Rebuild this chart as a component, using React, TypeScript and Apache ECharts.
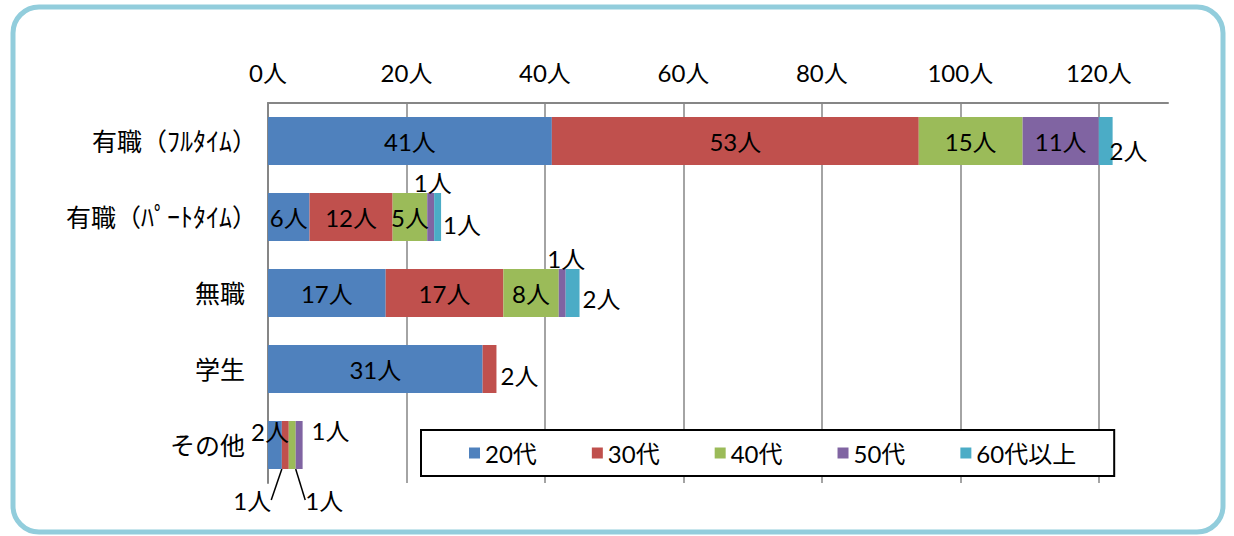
import React, { useEffect, useRef } from "react";
import * as echarts from "echarts";

const categories = ["有職（ﾌﾙﾀｲﾑ）", "有職（ﾊﾟｰﾄﾀｲﾑ）", "無職", "学生", "その他"];
const seriesNames = ["20代", "30代", "40代", "50代", "60代以上"];
const age20 = [41, 6, 17, 31, 2];
const age30 = [53, 12, 17, 2, 1];
const age40 = [15, 5, 8, 0, 1];
const age50 = [11, 1, 1, 0, 1];
const age60 = [2, 1, 2, 0, 0];
const xTicks = [0, 20, 40, 60, 80, 100, 120];
const seriesValues = [age20, age30, age40, age50, age60];
const colors = ["#4F81BD", "#C0504D", "#9BBB59", "#8064A2", "#4BACC6"];

const FONT = "Lato, 'Noto Sans CJK JP', sans-serif";

// per-label placement overrides, keyed "series-dataIndex"
const labelOverrides: Record<string, any> = {
  "4-0": { position: "right", distance: -3, d: [0, 9] },
  "3-1": { position: "top", distance: 0, d: [2, 1] },
  "4-1": { position: "right", distance: 2, d: [0, 7] },
  "3-2": { position: "top", distance: 0, d: [4, 1] },
  "4-2": { position: "right", distance: 3, d: [0, 5] },
  "1-3": { position: "right", distance: 4, d: [0, 6] },
  "0-4": { position: "inside", d: [-5, -14] },
  "3-4": { position: "right", distance: 9, d: [0, -15] },
};
const guided = ["1-4", "2-4"];

export default function App() {
  const ref = useRef<HTMLDivElement>(null);
  useEffect(() => {
    if (!ref.current) return;
    const chart = echarts.init(ref.current, null, { renderer: "svg" });
    const series = seriesValues.map((vals, si) => ({
      name: seriesNames[si],
      type: "bar",
      stack: "total",
      barWidth: 48,
      itemStyle: { color: colors[si] },
      label: {
        show: true,
        position: "inside",
        color: "#000",
        fontSize: 24,
        fontFamily: FONT,
        formatter: (p: any) => (p.value ? p.value + "人" : ""),
      },
      labelLayout: (params: any) => {
        const key = params.seriesIndex + "-" + params.dataIndex;
        const r = params.rect;
        const cx = r.x + r.width / 2;
        const by = r.y + r.height;
        if (key === "1-4") {
          return {
            x: cx - 52,
            y: by + 19,
            labelLinePoints: [
              [cx - 1, by - 6],
              [cx - 14, by + 21],
              [cx - 14, by + 21],
            ],
          };
        }
        if (key === "2-4") {
          return {
            x: cx + 13,
            y: by + 19,
            labelLinePoints: [
              [cx, by - 7],
              [cx + 30, by + 15],
              [cx + 30, by + 15],
            ],
          };
        }
        const o = labelOverrides[key];
        if (o && o.d) return { dx: o.d[0], dy: o.d[1] };
        return {};
      },
      data: vals.map((v, di) => {
        const key = si + "-" + di;
        const item: any = { value: v };
        if (v === 0) item.label = { show: false };
        else if (labelOverrides[key]) {
          const { d, ...rest } = labelOverrides[key];
          item.label = rest;
        }
        if (guided.includes(key)) {
          item.labelLine = { show: true, lineStyle: { color: "#000", width: 1.5 } };
        }
        return item;
      }),
    }));

    chart.setOption({
      animation: false,
      textStyle: { fontFamily: FONT },
      graphic: [
        {
          type: "rect",
          shape: { x: 13, y: 7, width: 1210, height: 525, r: 26 },
          style: { fill: "none", stroke: "#92CDDC", lineWidth: 5 },
          z: 100,
          silent: true,
        },
      ],
      grid: { left: 268, right: 66, top: 103, bottom: 53, containLabel: false },
      legend: {
        data: seriesNames,
        left: 421,
        top: 430,
        orient: "horizontal",
        icon: "rect",
        itemWidth: 11,
        itemHeight: 11,
        itemGap: 55,
        padding: [11, 38, 11, 48],
        borderColor: "#000",
        borderWidth: 2,
        backgroundColor: "#fff",
        textStyle: { fontSize: 24, color: "#000", fontFamily: FONT },
      },
      xAxis: {
        type: "value",
        position: "top",
        min: xTicks[0],
        max: 130,
        interval: xTicks[1] - xTicks[0],
        axisLine: { show: true, lineStyle: { color: "#868686", width: 2 } },
        axisTick: { show: false },
        axisLabel: {
          color: "#000",
          fontSize: 24,
          fontFamily: FONT,
          margin: 19,
          showMaxLabel: false,
          formatter: (v: number) => (xTicks.includes(v) ? v + "人" : ""),
        },
        splitLine: {
          show: true,
          showMinLine: false,
          showMaxLine: false,
          lineStyle: { color: "#868686", width: 1.5 },
        },
      },
      yAxis: {
        type: "category",
        inverse: true,
        data: categories,
        axisLine: { show: true, lineStyle: { color: "#868686", width: 2 } },
        axisTick: { show: false },
        axisLabel: {
          color: "#000",
          fontSize: 25,
          fontFamily: FONT,
          margin: 11,
          formatter: (v: string) => {
            const i = v.indexOf("（");
            if (i < 0) return "{b|" + v + "}";
            const head = v.slice(0, i + 1);
            const kana = v.slice(i + 1, v.length - 1);
            return "{a|" + head + "}{k|" + kana + "}{a|）}";
          },
          rich: {
            a: { fontSize: 25, fontFamily: FONT, color: "#000" },
            k: { fontSize: 26, fontFamily: FONT, color: "#000" },
            b: { fontSize: 25, fontFamily: FONT, color: "#000", padding: [0, 12, 0, 0] },
          },
        },
      },
      series,
    });
    return () => chart.dispose();
  }, []);
  return (
    <div
      ref={ref}
      style={{ position: "absolute", left: 0, top: 0, width: 1234, height: 536, background: "#fff" }}
    />
  );
}
